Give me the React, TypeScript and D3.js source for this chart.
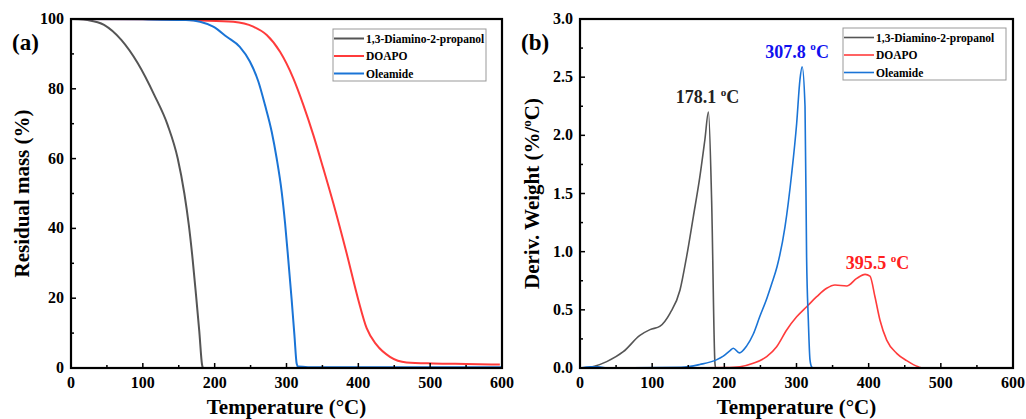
import React from 'react'
import * as d3 from 'd3';

// TGA curves: [temperature °C, residual mass %]
const tgaDiamino: [number, number][] = [
  [0, 100], [12, 99.95], [23, 99.7], [46, 98.3], [70, 94], [93, 87.3], [116, 78.2], [134.6, 69.6],
  [148.5, 60.1], [157.8, 50], [164, 41], [169.4, 31], [174, 21], [178.6, 10.5], [182.4, 1],
  [184, 0], [300, 0], [600, 0]
];
const tgaDoapo: [number, number][] = [
  [0, 100], [100, 99.9], [180, 99.6], [226, 99.2], [253.8, 97.8], [272.5, 95.4], [291, 90.6],
  [309.5, 83], [323.4, 75.4], [337.3, 66.8], [351.2, 57.2], [365.2, 47.2], [383.8, 32.8],
  [400, 19.5], [411.6, 11.4], [425.5, 6.6], [444, 3.2], [467, 1.6], [504, 1.3],
  [550, 1.15], [597, 1.0]
];
const tgaOleamide: [number, number][] = [
  [0, 100], [100, 99.9], [160, 99.7], [179.6, 99.2], [198, 97.8], [216.8, 94.9], [235, 92],
  [249, 87.8], [260.8, 82.1], [270, 75.4], [279.4, 67.7], [286.3, 60.1], [293.3, 50.5], [298, 41.5],
  [302.5, 31], [307.2, 19.5], [311, 9.5], [314.2, 1.2], [316, 0.4], [330, 0.25], [400, 0.2], [600, 0.2]
];

// DTG curves: [temperature °C, deriv. weight %/°C]
const dtgDiamino: [number, number][] = [
  [10, 0], [20, 0.015], [37, 0.055], [60, 0.14], [83, 0.28], [97, 0.33], [111, 0.36], [124.7, 0.47],
  [138.6, 0.67], [147.8, 0.96], [157, 1.3], [166, 1.64], [173, 1.96], [178, 2.2], [182.4, 1.44],
  [187, 0.04], [188, 0], [300, 0], [600, 0]
];
const dtgDoapo: [number, number][] = [
  [0, 0], [150, 0], [200, 0.004], [221.7, 0.011], [240, 0.04], [258.7, 0.097], [272.5, 0.183],
  [286.4, 0.327], [300.2, 0.44], [314.1, 0.527], [328, 0.613], [341.8, 0.685], [353.3, 0.713],
  [369.5, 0.705], [383.4, 0.77], [395, 0.805], [401.8, 0.79], [408.8, 0.61], [415.7, 0.41], [425, 0.24],
  [438.8, 0.126], [452.7, 0.063], [468.8, 0.01], [475, 0], [600, 0]
];
const dtgOleamide: [number, number][] = [
  [0, 0], [15, 0.01], [25, 0.01], [40, 0], [140, 0.005], [166, 0.03], [189, 0.07], [198, 0.1],
  [208, 0.15], [212.4, 0.17], [220.8, 0.13], [231, 0.19], [240, 0.29], [249, 0.44], [259, 0.6],
  [266, 0.73], [273, 0.87], [284, 1.21], [293.3, 1.67], [300.2, 2.1], [304.8, 2.48], [307.8, 2.59],
  [311.8, 2.25], [314, 0.95], [316.4, 0.41], [318.7, 0.07], [321, 0.01], [323, 0], [600, 0]
];

const seriesNames = ['1,3-Diamino-2-propanol', 'DOAPO', 'Oleamide'];
const seriesColors = ['#555555', '#ff3b3b', '#1a74d6'];

const tgaTicks = [0, 20, 40, 60, 80, 100];
const dtgTicks = [0, 0.5, 1.0, 1.5, 2.0, 2.5, 3.0];
const tempTicks = [0, 100, 200, 300, 400, 500, 600];

// peak labels: [temperature, value, text]
const peakLabels: [number, number, string][] = [
  [178.1, 2.2, '178.1'],
  [307.8, 2.59, '307.8'],
  [395.5, 0.805, '395.5']
];
// label styling: colour and pixel offset from the peak
const peakStyles = [
  { fill: '#222222', dx: -1, dy: -9 },
  { fill: '#1010ee', dx: -5, dy: -9 },
  { fill: '#ff2020', dx: 12, dy: -5 }
];

const font = '"Liberation Serif", "Times New Roman", serif';

const DegC = ({ size }: { size: number }) => (
  <>
    <tspan dy={-size * 0.4} fontSize={size * 0.62}>o</tspan>
    <tspan dy={size * 0.4}>C</tspan>
  </>
);

type PanelProps = {
  left: number; right: number; top: number; bottom: number;
  yMax: number; yTicks: number[]; yFmt: (v: number) => string; yMinorStep: number;
  series: [number, number][][]; strokeW: number; tag: string; yLabel: React.ReactNode;
  yLabelX: number; legend: { x0: number; x1: number; y0: number; y1: number };
  peaks?: [number, number, string][];
};

const Panel = (p: PanelProps) => {
  const x = d3.scaleLinear().domain([0, 600]).range([p.left, p.right]);
  const y = d3.scaleLinear().domain([0, p.yMax]).range([p.bottom, p.top]);
  const line = d3.line<[number, number]>().x(d => x(d[0])).y(d => y(d[1])).curve(d3.curveMonotoneX);
  const xMinor = d3.range(50, 600, 100);
  const yMinor = d3.range(p.yMinorStep, p.yMax, p.yMinorStep * 2);
  const cy = (p.top + p.bottom) / 2;
  const rowY = (i: number) => p.legend.y0 + 9.5 + i * 17.5;
  return (
    <g fontFamily={font} fontWeight="bold">
      <defs>
        <clipPath id={`clip-${p.tag}`}>
          <rect x={p.left} y={p.top - 1} width={p.right - p.left} height={p.bottom - p.top + 1} />
        </clipPath>
      </defs>
      <g clipPath={`url(#clip-${p.tag})`}>
        {p.series.map((s, i) => (
          <path key={i} d={line(s) ?? ''} fill="none" stroke={seriesColors[i]} strokeWidth={p.strokeW} />
        ))}
      </g>
      {/* ticks */}
      {tempTicks.map(t => (
        <g key={`x${t}`}>
          <line x1={x(t)} x2={x(t)} y1={p.bottom} y2={p.bottom - 5} stroke="#000" strokeWidth={1.5} />
          <text x={x(t)} y={p.bottom + 20} textAnchor="middle" fontSize={16}>{t}</text>
        </g>
      ))}
      {xMinor.map(t => (
        <line key={`xm${t}`} x1={x(t)} x2={x(t)} y1={p.bottom} y2={p.bottom - 3} stroke="#000" strokeWidth={1.5} />
      ))}
      {p.yTicks.map(t => (
        <g key={`y${t}`}>
          <line x1={p.left} x2={p.left + 5} y1={y(t)} y2={y(t)} stroke="#000" strokeWidth={1.5} />
          <text x={p.left - 7} y={y(t) + 5} textAnchor="end" fontSize={16}>{p.yFmt(t)}</text>
        </g>
      ))}
      {yMinor.map(t => (
        <line key={`ym${t}`} x1={p.left} x2={p.left + 3} y1={y(t)} y2={y(t)} stroke="#000" strokeWidth={1.5} />
      ))}
      <rect x={p.left} y={p.top} width={p.right - p.left} height={p.bottom - p.top}
        fill="none" stroke="#000" strokeWidth={2.2} />
      {/* axis titles */}
      <text x={(p.left + p.right) / 2} y={p.bottom + 46} textAnchor="middle" fontSize={21}>
        Temperature (°C)
      </text>
      <text transform={`translate(${p.yLabelX},${cy}) rotate(-90)`} textAnchor="middle" fontSize={21}>
        {p.yLabel}
      </text>
      <text x={p.left - 59} y={50} fontSize={23}>{p.tag}</text>
      {/* legend */}
      <rect x={p.legend.x0} y={p.legend.y0} width={p.legend.x1 - p.legend.x0} height={p.legend.y1 - p.legend.y0}
        fill="#fff" stroke="#999" strokeWidth={1} />
      {seriesNames.map((n, i) => (
        <g key={n}>
          <line x1={p.legend.x0 + 1} x2={p.legend.x0 + 31} y1={rowY(i)} y2={rowY(i)}
            stroke={seriesColors[i]} strokeWidth={p.strokeW} />
          <text x={p.legend.x0 + 33} y={rowY(i) + 4} fontSize={11.5}>{n}</text>
        </g>
      ))}
      {(p.peaks ?? []).map(([t, v, s], i) => (
        <text key={s} x={x(t) + peakStyles[i].dx} y={y(v) + peakStyles[i].dy} textAnchor="middle" fontSize={18}
          fill={peakStyles[i].fill}>
          {s} <DegC size={18} />
        </text>
      ))}
    </g>
  );
};

const App = () => {
  return (
    <svg width={1026} height={419} style={{ position: 'absolute', left: 0, top: 0, background: '#fff' }}>
      <rect width={1026} height={419} fill="#fff" />
      <Panel left={71} right={502} top={19} bottom={368} yMax={100} yTicks={tgaTicks}
        yFmt={v => String(v)} yMinorStep={10} series={[tgaDiamino, tgaDoapo, tgaOleamide]}
        strokeW={2} tag="(a)" yLabel="Residual mass (%)" yLabelX={29}
        legend={{ x0: 333, x1: 486, y0: 29, y1: 81 }} />
      <Panel left={580} right={1013} top={19} bottom={368} yMax={3} yTicks={dtgTicks}
        yFmt={v => d3.format('.1f')(v)} yMinorStep={0.25} series={[dtgDiamino, dtgDoapo, dtgOleamide]}
        strokeW={1.6} tag="(b)" yLabel={<>Deriv. Weight (%/<DegC size={21} />)</>} yLabelX={539}
        legend={{ x0: 843, x1: 1006, y0: 28, y1: 80 }} peaks={peakLabels} />
    </svg>
  )
}

export default App
